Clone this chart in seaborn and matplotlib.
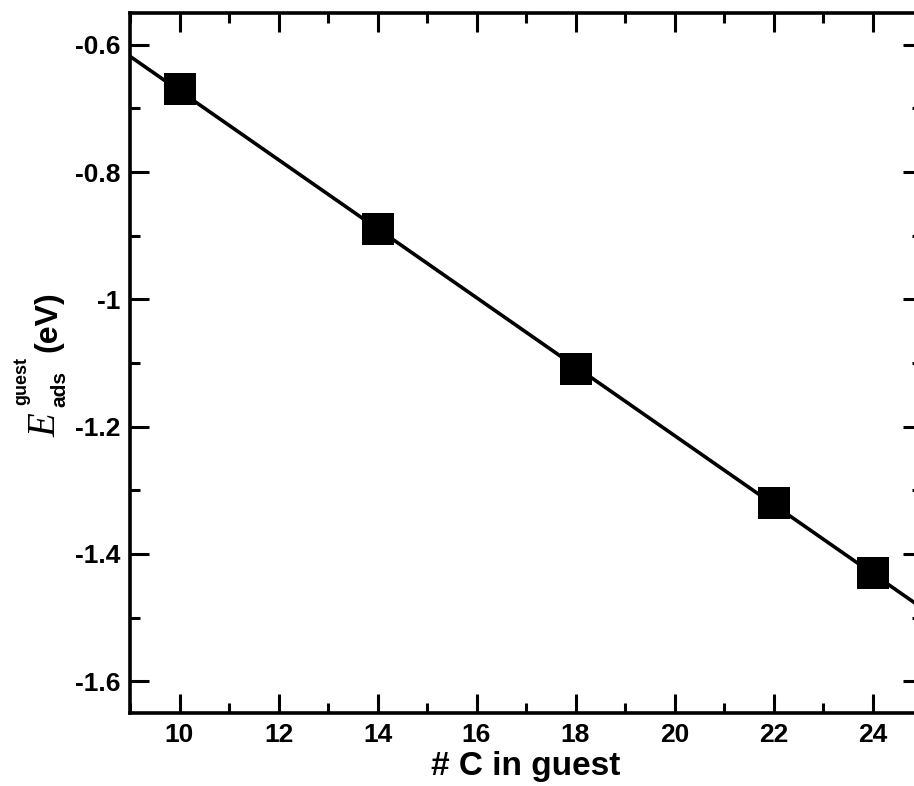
import numpy as np
import pandas as pd
import matplotlib
matplotlib.use("Agg")
import matplotlib.pyplot as plt
import seaborn as sns
from matplotlib.ticker import MultipleLocator

# Number of carbon atoms in the guest molecule and its adsorption energy (eV)
n_carbon = [10, 14, 18, 22, 24]
e_ads = [-0.67, -0.89, -1.11, -1.32, -1.43]

x_ticks = [10, 12, 14, 16, 18, 20, 22, 24]
y_ticks = [-1.6, -1.4, -1.2, -1.0, -0.8, -0.6]
y_tick_labels = ["-1.6", "-1.4", "-1.2", "-1", "-0.8", "-0.6"]

df = pd.DataFrame({"nC": n_carbon, "E": e_ads})

sns.set_theme(style="ticks")
plt.rcParams["font.family"] = ["Liberation Sans", "DejaVu Sans"]
for key in ("text.color", "axes.labelcolor", "xtick.color", "ytick.color",
            "axes.edgecolor"):
    plt.rcParams[key] = "black"

W, H = 914, 786
fig = plt.figure(figsize=(W / 100, H / 100), dpi=100)
ax = fig.add_axes([130 / W, 73 / H, 792 / W, 700 / H])
ax.set_xlim(9, 25)
ax.set_ylim(-1.65, -0.55)

sns.regplot(
    data=df, x="nC", y="E", ax=ax, ci=None, truncate=False, marker="s",
    color="black",
    scatter_kws={"s": 560, "linewidths": 0, "alpha": 1, "zorder": 3},
    line_kws={"linewidth": 2.6, "zorder": 2},
)

ax.set_xticks(x_ticks)
ax.set_yticks(y_ticks)
ax.set_yticklabels(y_tick_labels)
ax.xaxis.set_minor_locator(MultipleLocator(1))
ax.yaxis.set_minor_locator(MultipleLocator(0.1))

ax.tick_params(which="both", direction="in", top=True, right=True,
               width=2.2, color="black", labelcolor="black")
ax.tick_params(which="major", length=14, pad=7, labelsize=19)
ax.tick_params(which="minor", length=7)
for lab in ax.get_xticklabels() + ax.get_yticklabels():
    lab.set_fontweight("bold")

for sp in ax.spines.values():
    sp.set_linewidth(2.6)
    sp.set_color("black")

ax.set_xlabel("# C in guest", fontsize=24, fontweight="bold", labelpad=3,
              color="black")
ax.set_ylabel("")


def label_piece(px, py, text, size, **kw):
    """Place a rotated piece of the y-axis title; (px, py) is the baseline start in pixels."""
    fig.text(px / W, 1 - py / H, text, rotation=90, rotation_mode="anchor",
             ha="left", va="baseline", fontsize=size, color="black", **kw)


# E^{guest}_{ads} (eV), assembled from its parts
label_piece(55, 437, "E", 28, family="Liberation Serif", style="italic")
label_piece(65, 407, "ads", 15, fontweight="bold")
label_piece(26, 405, "guest", 13, fontweight="bold")
label_piece(56, 352, "(eV)", 23, fontweight="bold")

fig.savefig("out.png", dpi=100)
